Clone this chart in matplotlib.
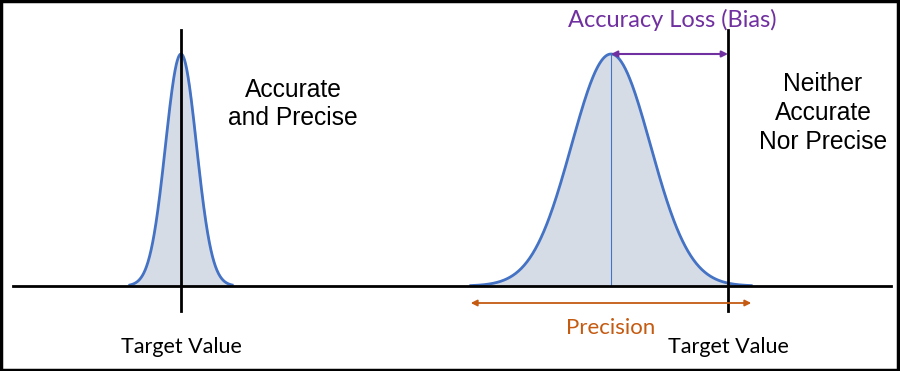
import numpy as np
import matplotlib.pyplot as plt
from matplotlib.patches import Rectangle

# Conceptual chart: accuracy vs precision (x in image units, y = height above baseline)
target_values = [181, 728]      # where each target line sits
curve_means = [181, 611]        # centre of each distribution
curve_sigmas = [15.5, 39.5]     # spread of each distribution
curve_tails = [3.3, 3.55]       # how many sigmas each curve is drawn out to
peak_height = 232               # same peak height for both curves

labels_top = ["Accurate\nand Precise", "Neither\nAccurate\nNor Precise"]
label_x = [293, 823]
label_y = [104, 113]

blue = '#4472C4'
fill = '#D6DCE5'
purple = '#7030A0'
orange = '#C55A11'

fig = plt.figure(figsize=(9, 3.71), dpi=100)
ax = fig.add_axes([0, 0, 1, 1])
ax.set_xlim(0, 900)
ax.set_ylim(-85, 286)
ax.axis('off')

# baseline
ax.plot([13, 891], [0, 0], color='black', lw=2, zorder=3)

for mu, sd, tail in zip(curve_means, curve_sigmas, curve_tails):
    xs = np.linspace(mu - tail * sd, mu + tail * sd, 400)
    ys = peak_height * np.exp(-0.5 * ((xs - mu) / sd) ** 2)
    ax.fill_between(xs, 0, ys, color=fill, zorder=1)
    ax.plot(xs, ys, color=blue, lw=2, zorder=2)

# thin line from the peak of the biased curve down to the baseline
ax.plot([curve_means[1], curve_means[1]], [0, peak_height], color=blue, lw=0.8, zorder=2)

# target lines and labels
for tv in target_values:
    ax.plot([tv, tv], [-25, 256], color='black', lw=2, zorder=4)
    ax.text(tv, -61, 'Target Value', ha='center', va='center', fontsize=15.5,
            family='Lato', color='black')

for txt, x, y in zip(labels_top, label_x, label_y):
    ax.text(x, 286 - y, txt, ha='center', va='center', fontsize=17.7,
            family='Liberation Sans', color='black', linespacing=1.25)

# bias arrow
ax.annotate('', xy=(target_values[1], peak_height), xytext=(curve_means[1], peak_height),
            arrowprops=dict(arrowstyle='<|-|>', color=purple, lw=1.5,
                            mutation_scale=9, shrinkA=0, shrinkB=0), zorder=5)
ax.text((curve_means[1] + target_values[1]) / 2 + 3, 266, 'Accuracy Loss (Bias)',
        ha='center', va='center', fontsize=17, family='Lato', color=purple)

# precision arrow
lo = curve_means[1] - curve_tails[1] * curve_sigmas[1]
hi = curve_means[1] + curve_tails[1] * curve_sigmas[1]
ax.annotate('', xy=(hi, -17), xytext=(lo, -17),
            arrowprops=dict(arrowstyle='<|-|>', color=orange, lw=1.3,
                            mutation_scale=9, shrinkA=0, shrinkB=0), zorder=5)
ax.text((lo + hi) / 2, -42, 'Precision', ha='center', va='center', fontsize=16,
        family='Lato', color=orange)

# frame around the whole picture
fig.patches.append(Rectangle((0.001, 0.002), 0.997, 0.995, transform=fig.transFigure,
                             fill=False, edgecolor='black', lw=2.5))

plt.savefig('out.png', dpi=100)
